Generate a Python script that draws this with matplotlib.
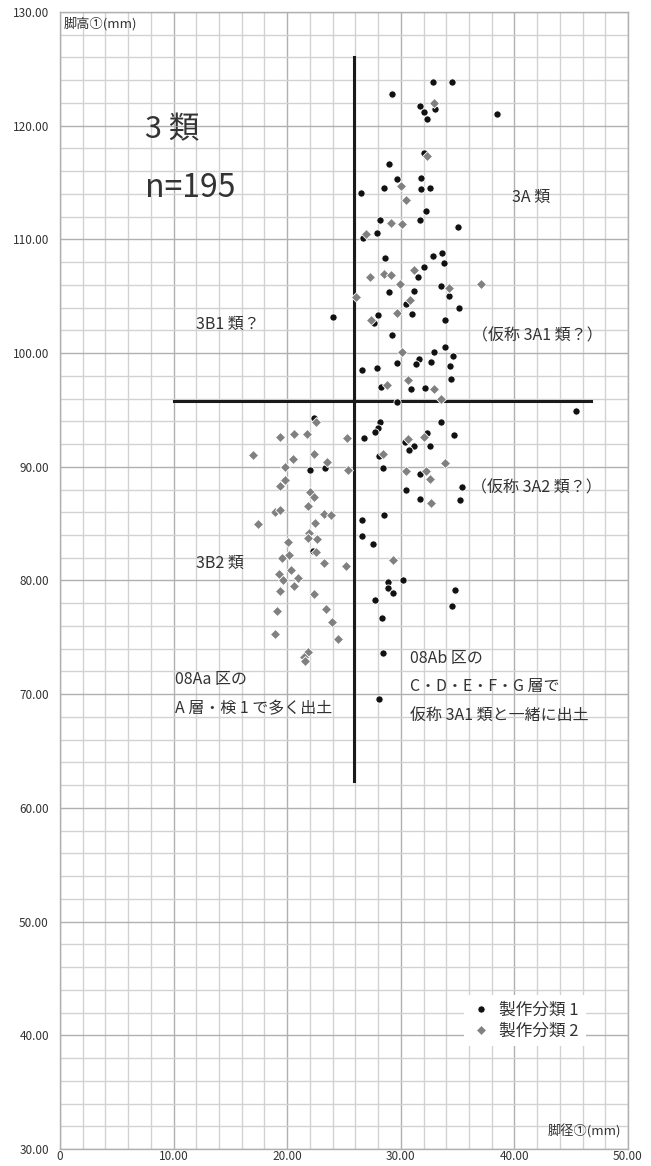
import matplotlib
matplotlib.use("Agg")
import matplotlib.pyplot as plt
import numpy as np

plt.rcParams['font.family'] = ['Noto Sans CJK JP', 'DejaVu Sans']

# 製作分類 1 (black circles)
x1 = [32.8, 34.5, 29.2, 31.7, 32.0, 33.0, 32.3, 38.5,
      32.0, 28.95, 29.7, 31.8, 28.5, 31.8, 32.6, 26.5,
      32.2, 28.15, 31.7, 35.0, 27.9, 26.7, 28.6, 32.8, 33.6, 33.8, 32.05, 31.5,
      33.5, 29.0, 31.2, 34.2, 30.5, 35.15, 24.0, 28.0, 31.0, 33.85, 27.65, 29.25,
      32.9, 33.85, 34.6, 31.6, 29.7, 31.3, 32.7, 34.3, 26.55, 27.9, 34.4, 28.3,
      30.9, 32.1, 29.7,
      45.4, 22.4, 33.5, 28.2, 28.0, 27.7, 26.8, 32.3, 34.65, 30.35, 31.2, 30.7,
      32.55, 28.1, 23.3, 22.0, 28.4, 31.7, 35.4, 30.5, 31.65, 35.2, 26.6, 28.5,
      26.55, 27.55, 22.3, 30.2, 28.9, 28.9, 29.3, 34.8, 34.5, 27.7, 28.35, 28.45, 28.05]
y1 = [123.8, 123.85, 122.8, 121.7, 121.2, 121.5, 120.6, 121.05,
      117.6, 116.6, 115.3, 115.4, 114.55, 114.4, 114.5, 114.1,
      112.5, 111.7, 111.7, 111.1, 110.6, 110.1, 108.35, 108.5, 108.8, 107.9, 107.6, 106.7,
      105.9, 105.35, 105.5, 105.05, 104.3, 103.95, 103.15, 103.35, 103.4, 102.95, 102.65, 101.6,
      100.1, 100.55, 99.75, 99.5, 99.15, 99.0, 99.2, 98.9, 98.5, 98.7, 97.7, 97.0,
      96.8, 96.9, 95.7,
      94.9, 94.3, 93.9, 93.9, 93.45, 93.1, 92.55, 92.95, 92.8, 92.15, 91.8, 91.5,
      91.85, 90.95, 89.9, 89.75, 89.9, 89.4, 88.25, 87.95, 87.2, 87.1, 85.3, 85.75,
      83.9, 83.2, 82.6, 80.0, 79.9, 79.3, 78.9, 79.2, 77.8, 78.3, 76.7, 73.6, 69.6]

# 製作分類 2 (gray diamonds)
x2 = [32.9, 32.3, 30.0, 30.45, 29.1, 30.1, 26.95, 31.2, 27.3, 28.5, 29.15,
      29.97, 34.2, 37.1, 26.1, 30.8, 29.7, 27.4, 30.1, 30.6, 28.8, 32.9, 33.5,
      22.5, 21.7, 25.3, 32.05, 30.65, 22.35, 28.4, 19.35, 20.6, 17.0, 20.5, 23.5,
      19.8, 25.35, 30.5, 32.25, 32.55, 33.9, 32.7,
      19.8, 19.4, 22.0, 22.4, 21.85, 18.9, 19.4, 23.2, 23.85, 17.4, 22.45, 21.9,
      20.1, 21.8, 22.65, 22.55, 20.15, 19.5, 23.25, 25.2, 29.35, 19.3, 20.3, 19.6,
      20.95, 20.6, 19.4, 22.35, 23.45, 19.1, 23.95, 18.95, 24.5, 21.8, 21.5, 21.6]
y2 = [122.0, 117.3, 114.7, 113.5, 111.4, 111.35, 110.5, 107.35, 106.7, 107.0, 106.85,
      106.1, 105.7, 106.1, 104.9, 104.65, 103.5, 102.9, 100.1, 97.65, 97.2, 96.8, 96.0,
      93.9, 92.9, 92.5, 92.65, 92.45, 91.1, 91.1, 92.65, 92.9, 91.0, 90.7, 90.4,
      90.0, 89.75, 89.6, 89.65, 88.9, 90.3, 86.8,
      88.8, 88.3, 87.75, 87.3, 86.55, 86.05, 86.2, 85.85, 85.75, 84.95, 85.05, 84.2,
      83.4, 83.7, 83.65, 82.5, 82.25, 81.95, 81.5, 81.3, 81.8, 80.6, 80.9, 80.05,
      80.25, 79.5, 79.1, 78.8, 77.5, 77.35, 76.35, 75.3, 74.85, 73.75, 73.3, 72.9]

# dividing lines
hline_y, hline_x0, hline_x1 = 95.8, 10.0, 46.7
vline_x, vline_y0, vline_y1 = 25.9, 62.4, 126.0

fig = plt.figure(figsize=(6.51, 11.66), dpi=100)
ax = fig.add_axes([60 / 651, 17 / 1166, 568 / 651, 1137 / 1166])

ax.set_xlim(0, 50)
ax.set_ylim(30, 130)
ax.set_xticks(np.arange(0, 51, 10))
ax.set_xticks(np.arange(0, 51, 2), minor=True)
ax.set_yticks(np.arange(30, 131, 10))
ax.set_yticks(np.arange(30, 131, 2), minor=True)
ax.set_xticklabels(["0"] + [f"{v:.2f}" for v in range(10, 51, 10)])
ax.set_yticklabels([f"{v:.2f}" for v in range(30, 131, 10)])
ax.tick_params(which='both', length=0, labelcolor='#333333')
ax.tick_params(axis='x', pad=0.5, labelsize=8.5)
ax.tick_params(axis='y', pad=8, labelsize=8.5)
ax.grid(which='minor', color='#d2d2d2', lw=1.0)
ax.grid(which='major', color='#b0b0b0', lw=1.0)
ax.set_axisbelow(True)
for s in ax.spines.values():
    s.set_color('#b0b0b0')
    s.set_linewidth(1.0)

ax.plot([hline_x0, hline_x1], [hline_y, hline_y], color='#1a1a1a', lw=2.2, zorder=2)
ax.plot([vline_x, vline_x], [vline_y0, vline_y1], color='#1a1a1a', lw=2.2, zorder=2)

ax.plot(x1, y1, 'o', ms=5.2, color='#111111', mec='white', mew=0.6, ls='none',
        label='製作分類 1', zorder=3)
ax.plot(x2, y2, 'D', ms=4.6, color='#808080', mec='white', mew=0.6, ls='none',
        label='製作分類 2', zorder=3)

tc = '#333333'
fs = 11.5
ax.text(7.5, 119.6, '3 類', fontsize=22, color=tc, va='center')
ax.text(7.5, 114.5, 'n=195', fontsize=23, color=tc, va='center')
ax.text(39.8, 113.7, '3A 類', fontsize=fs, color=tc, va='center')
ax.text(12.0, 102.5, '3B1 類？', fontsize=fs, color=tc, va='center')
ax.text(36.3, 101.5, '（仮称 3A1 類？）', fontsize=fs, color=tc, va='center')
ax.text(36.2, 88.1, '（仮称 3A2 類？）', fontsize=fs, color=tc, va='center')
ax.text(12.0, 81.5, '3B2 類', fontsize=fs, color=tc, va='center')
ax.text(10.1, 71.3, '08Aa 区の', fontsize=fs, color=tc, va='center')
ax.text(10.1, 68.75, 'A 層・検 1 で多く出土', fontsize=fs, color=tc, va='center')
ax.text(30.8, 73.15, '08Ab 区の', fontsize=fs, color=tc, va='center')
ax.text(30.8, 70.7, 'C・D・E・F・G 層で', fontsize=fs, color=tc, va='center')
ax.text(30.8, 68.1, '仮称 3A1 類と一緒に出土', fontsize=fs, color=tc, va='center')
ax.text(0.3, 129.0, '脚高①(mm)', fontsize=9.5, color=tc, va='center')
ax.text(49.4, 31.5, '脚径①(mm)', fontsize=9.5, color=tc, va='center', ha='right')

leg = ax.legend(loc='lower left', bbox_to_anchor=(0.697, 0.083), frameon=True,
                fontsize=12, handletextpad=0.5, borderpad=0.4, labelspacing=0.25,
                handlelength=1.2, fancybox=False)
leg.get_frame().set_facecolor('white')
leg.get_frame().set_edgecolor('none')
leg.get_frame().set_alpha(1)
for t in leg.get_texts():
    t.set_color(tc)

fig.savefig('out.png', dpi=100)
